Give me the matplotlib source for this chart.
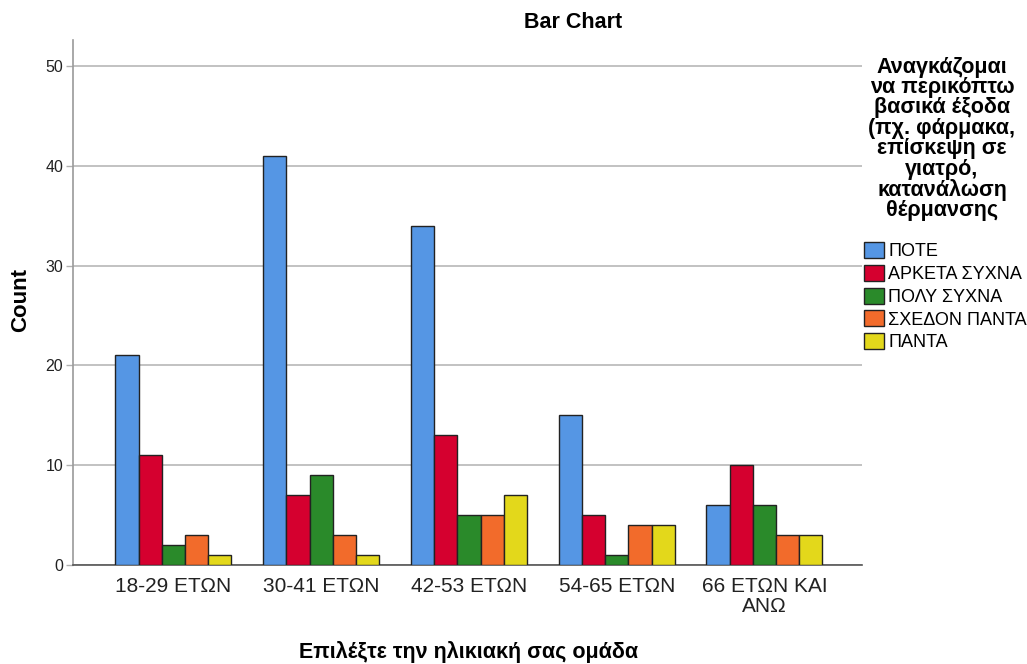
import matplotlib
matplotlib.use("Agg")
import matplotlib.pyplot as plt
import numpy as np

plt.rcParams['font.family'] = ['Liberation Sans', 'DejaVu Sans']

categories = ["18-29 ΕΤΩΝ", "30-41 ΕΤΩΝ", "42-53 ΕΤΩΝ", "54-65 ΕΤΩΝ", "66 ΕΤΩΝ ΚΑΙ\nΑΝΩ"]
series_names = ["ΠΟΤΕ", "ΑΡΚΕΤΑ ΣΥΧΝΑ", "ΠΟΛΥ ΣΥΧΝΑ", "ΣΧΕΔΟΝ ΠΑΝΤΑ", "ΠΑΝΤΑ"]
pote = [21, 41, 34, 15, 6]
arketa_sychna = [11, 7, 13, 5, 10]
poly_sychna = [2, 9, 5, 1, 6]
schedon_panta = [3, 3, 5, 4, 3]
panta = [1, 1, 7, 4, 3]
yticks = [0, 10, 20, 30, 40, 50]

series = [pote, arketa_sychna, poly_sychna, schedon_panta, panta]
colors = ["#5596e4", "#d5002f", "#2a8a2a", "#f26b2b", "#e3d81b"]

fig = plt.figure(figsize=(10.27, 6.64), dpi=100)
ax = fig.add_axes([73/1027, 1-565/664, (862-73)/1027, (565-40)/664])

x = np.arange(len(categories))
w = 0.157
handles = []
for i, (vals, col, name) in enumerate(zip(series, colors, series_names)):
    b = ax.bar(x + (i - 2) * w, vals, width=w, color=col, edgecolor="#222222",
               linewidth=1.0, label=name, zorder=3)
    handles.append(b)

ax.set_xlim(-0.68, 4.66)
ax.set_ylim(0, 52.6)
ax.set_yticks(yticks)
ax.set_yticklabels([str(t) for t in yticks], fontsize=11.5, color="#222222")
ax.set_xticks(x)
ax.set_xticklabels(categories, fontsize=15, color="#222222", linespacing=1.05)
ax.tick_params(axis='x', length=0, pad=9)
ax.tick_params(axis='y', length=5, color="#b0b0b0", width=1, pad=2)
ax.yaxis.grid(True, color="#b8b8b8", linewidth=1.2, zorder=0)
for s in ["top", "right"]:
    ax.spines[s].set_visible(False)
ax.spines["left"].set_color("#9a9a9a")
ax.spines["bottom"].set_color("#555555")
ax.spines["left"].set_linewidth(1.2)
ax.spines["bottom"].set_linewidth(1.2)

fig.text(21/1027, 1-300/664, "Count", ha="center", va="center", rotation=90,
         fontsize=16, fontweight="bold")
fig.text(469/1027, 1-652/664, "Επιλέξτε την ηλικιακή σας ομάδα", ha="center", va="center",
         fontsize=15.5, fontweight="bold")
fig.text(573/1027, 1-22/664, "Bar Chart", ha="center", va="center",
         fontsize=15.5, fontweight="bold")

legend_title = ("Αναγκάζομαι\nνα περικόπτω\nβασικά έξοδα\n(πχ. φάρμακα,\n"
                "επίσκεψη σε\nγιατρό,\nκατανάλωση\nθέρμανσης")
fig.text(942/1027, 1-139/664, legend_title, ha="center", va="center",
         fontsize=15.5, fontweight="bold", linespacing=0.96)

leg = fig.legend(handles=handles, labels=series_names, loc="upper left",
                 bbox_to_anchor=(864/1027, 1-242/664), frameon=False, fontsize=13,
                 handlelength=1.1, handleheight=1.0, handletextpad=0.25,
                 labelspacing=0.25, borderaxespad=0, borderpad=0)

fig.savefig("out.png", dpi=100, facecolor="white")
